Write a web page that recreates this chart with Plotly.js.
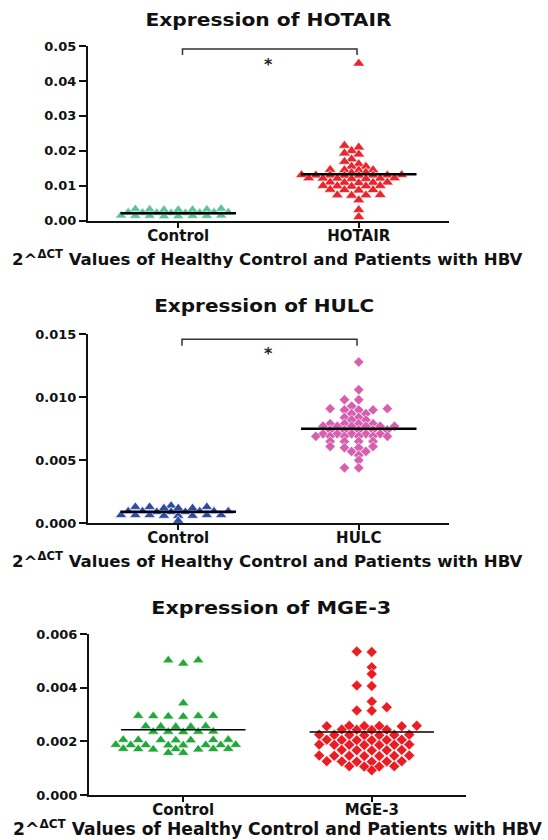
<!DOCTYPE html>
<html><head><meta charset="utf-8">
<script src="https://cdn.plot.ly/plotly-3.0.1.min.js"></script>
<style>html,body{margin:0;padding:0;background:#fff}#chart{width:548px;height:840px}</style>
</head><body><div id="chart"></div>
<script>
// ---------------- DATA ----------------
const hotairTitle = "Expression of HOTAIR";
const hotairCategories = ["Control", "HOTAIR"];
const hotairControl = [0.0031,0.0032,0.0031,0.0034,0.0032,0.0031,0.0033,
  0.0023,0.0024,0.0022,0.0023,0.0024,0.0022,0.0023,0.0024,
  0.0014,0.0015,0.0013,0.0014,0.0015,0.0014,0.0013,0.0014];
const hotairPatients = [0.0450,
  0.0215,0.0210,
  0.0200,0.0193,0.0190,
  0.0176,0.0169,0.0162,
  0.0155,0.0155,
  0.0146,0.0145,0.0145,0.0144,
  0.0138,0.0137,
  0.0131,0.0130,0.0130,0.0129,0.0130,0.0131,0.0129,0.0130,
  0.0122,0.0121,0.0120,0.0121,0.0122,0.0120,0.0121,
  0.0110,0.0109,0.0108,0.0109,0.0110,
  0.0100,0.0099,0.0098,0.0099,0.0100,
  0.0089,0.0088,0.0087,0.0088,
  0.0074,0.0073,0.0072,0.0073,
  0.0059,0.0031,0.0011];
const hotairMeans = [0.0021, 0.0133];
const hotairYTicks = [0, 0.01, 0.02, 0.03, 0.04, 0.05];
const hotairYTickText = ["0.00", "0.01", "0.02", "0.03", "0.04", "0.05"];

const hulcTitle = "Expression of HULC";
const hulcCategories = ["Control", "HULC"];
const hulcControl = [0.0013,0.0014,0.0012,0.0013,0.0012,0.0013,0.0012,
  0.00095,0.0009,0.00095,0.00095,0.0009,0.00095,0.0009,0.00095,
  0.00065,0.0006,0.00065,0.00065,0.0006,0.00065,0.00065,0.0006,
  0.0002];
const hulcPatients = [0.0128,
  0.0106,
  0.0098,0.0098,
  0.0093,
  0.0091,0.0090,0.0091,0.0090,0.0090,
  0.0087,0.0087,
  0.0084,0.0084,
  0.0082,0.0082,
  0.0079,0.0079,0.0079,0.0079,
  0.0077,0.0077,0.0077,0.0077,0.0077,0.0077,
  0.0074,0.0074,0.0074,0.0074,0.0074,
  0.0071,0.0071,0.0071,0.0071,0.0071,
  0.0069,0.0069,0.0069,0.0069,0.0069,0.0069,
  0.0065,0.0065,0.0065,0.0065,
  0.0061,0.0061,0.0060,0.0060,
  0.0057,0.0057,
  0.0054,0.0050,0.0044,0.0044];
const hulcMeans = [0.00092, 0.0075];
const hulcYTicks = [0, 0.005, 0.010, 0.015];
const hulcYTickText = ["0.000", "0.005", "0.010", "0.015"];

const mgeTitle = "Expression of MGE-3";
const mgeCategories = ["Control", "MGE-3"];
const mgeControl = [0.00502,0.00490,0.00502,
  0.00342,
  0.00295,0.00293,0.00294,0.00292,0.00294,0.00295,
  0.00256,0.00254,0.00255,0.00256,0.00254,
  0.00236,0.00237,0.00235,0.00236,0.00236,
  0.00205,0.00206,0.00204,0.00205,0.00206,0.00204,0.00205,
  0.00186,0.00187,0.00185,0.00186,0.00187,0.00185,0.00186,0.00186,
  0.00171,0.00170,0.00172,0.00171,0.00170,0.00172,0.00171,
  0.00157,0.00157];
const mgePatients = [0.00535,0.00533,
  0.00476,
  0.00451,
  0.00408,0.00406,
  0.00348,
  0.00327,
  0.00315,0.00314,
  0.00258,0.00257,0.00256,0.00257,0.00258,0.00256,
  0.00243,0.00242,0.00244,0.00243,
  0.00225,0.00223,0.00224,0.00224,0.00225,0.00223,0.00224,
  0.00205,0.00206,0.00204,0.00205,0.00206,0.00204,
  0.00187,0.00188,0.00186,0.00187,0.00188,0.00186,0.00187,
  0.00167,0.00168,0.00166,0.00167,0.00168,
  0.00146,0.00147,0.00145,0.00146,0.00147,0.00145,0.00146,
  0.00125,0.00126,0.00124,0.00125,0.00126,0.00124,
  0.00107,0.00106,0.00107,0.00106,
  0.00092];
const mgeMeans = [0.00243, 0.00235];
const mgeYTicks = [0, 0.002, 0.004, 0.006];
const mgeYTickText = ["0.000", "0.002", "0.004", "0.006"];

const xLabelText = "2^<sup>ΔCT</sup> Values of Healthy Control and Patients with HBV";

// ---------------- LAYOUT / STYLE ----------------
const W = 548, H = 840;
const FONT = "DejaVu Sans, Liberation Sans, Arial, sans-serif";
const px2x = p => p / W;
const px2y = p => 1 - p / H;

const panels = [
  { title: hotairTitle, cats: hotairCategories, groups: [hotairControl, hotairPatients], means: hotairMeans,
    yTicks: hotairYTicks, yTickText: hotairYTickText, yRange: [0, 0.05],
    xPx: [88, 449], yPx: [46, 220.7], h: 7.15, D0: 5, D1: 2,
    colors: ['#5cc49b', '#e8262d'], symbols: ['triangle-up', 'triangle-up'], sizes: [10, 10.5],
    meanW: 2.5, meanHalf: 0.32, titlePos: [269, 20], titleLen: 246, xlabPos: [267, 257.5],
    bracket: { x0: 182.5, x1: 357, yTop: 49, yEnd: 55 }, star: [268, 65], labSize: 16.6, tickLabSize: 15 },
  { title: hulcTitle, cats: hulcCategories, groups: [hulcControl, hulcPatients], means: hulcMeans,
    yTicks: hulcYTicks, yTickText: hulcYTickText, yRange: [0, 0.015],
    xPx: [88, 449], yPx: [334.3, 523.3], h: 7.15, D0: 5, D1: 2,
    colors: ['#2e4ba6', '#d65fb0'], symbols: ['triangle-up', 'diamond'], sizes: [10, 8],
    meanW: 2.5, meanHalf: 0.32, titlePos: [263.5, 305.7], titleLen: 220, xlabPos: [267, 560],
    bracket: { x0: 182, x1: 357, yTop: 339.3, yEnd: 345.7 }, star: [268, 353], labSize: 16.6, tickLabSize: 15 },
  { title: mgeTitle, cats: mgeCategories, groups: [mgeControl, mgePatients], means: mgeMeans,
    yTicks: mgeYTicks, yTickText: mgeYTickText, yRange: [0, 0.006],
    xPx: [89, 466], yPx: [634, 795], h: 7.5, D0: 6, D1: 3.5,
    colors: ['#22a83a', '#ec1c24'], symbols: ['triangle-up', 'diamond'], sizes: [10, 8.5],
    meanW: 1.6, meanHalf: 0.33, titlePos: [271, 608], titleLen: 240, xlabPos: [277, 828],
    bracket: null, star: null, labSize: 17.2, tickLabSize: 15 }
];

// Prism-like column scatter: greedy placement on a half-step lattice
function swarm(vals, pxPerY, h, D0, D1) {
  const idx = vals.map((v, i) => i).sort((a, b) => vals[a] - vals[b] || a - b);
  const placed = [];
  const k = new Array(vals.length).fill(0);
  for (const i of idx) {
    const y = vals[i] * pxPerY;
    for (let s = 0; s < 400; s++) {
      const cand = s === 0 ? 0 : (s % 2 === 1 ? -Math.ceil(s / 2) : Math.ceil(s / 2));
      let ok = true;
      for (const p of placed) {
        const dy = Math.abs(p.y - y), dk = Math.abs(p.k - cand);
        if ((dk === 0 && dy < D0) || (dk === 1 && dy < D1)) { ok = false; break; }
      }
      if (ok) { k[i] = cand; placed.push({ y: y, k: cand }); break; }
    }
  }
  return k.map(v => v * h);
}

const traces = [];
const shapes = [];
const annotations = [];
const layout = {
  width: W, height: H, margin: { l: 0, r: 0, t: 0, b: 0 },
  paper_bgcolor: '#fff', plot_bgcolor: '#fff', showlegend: false,
  font: { family: FONT, color: '#000' }
};

panels.forEach((P, pi) => {
  const n = pi + 1;
  const xa = 'xaxis' + (n === 1 ? '' : n), ya = 'yaxis' + (n === 1 ? '' : n);
  const xr = 'x' + (n === 1 ? '' : n), yr = 'y' + (n === 1 ? '' : n);
  const xRange = [-0.5, 1.5];
  layout[xa] = {
    domain: [px2x(P.xPx[0]), px2x(P.xPx[1])], range: xRange, anchor: yr,
    showgrid: false, zeroline: false, showline: true, linecolor: '#111', linewidth: 2,
    ticks: 'outside', ticklen: 5, tickwidth: 2, tickcolor: '#111', ticklabelstandoff: -5,
    tickmode: 'array', tickvals: [0, 1], ticktext: P.cats,
    tickfont: { family: FONT, size: P.tickLabSize, color: '#111', weight: 'bold' }, fixedrange: true
  };
  layout[ya] = {
    domain: [px2y(P.yPx[1]), px2y(P.yPx[0])], range: P.yRange, anchor: xr,
    showgrid: false, zeroline: false, showline: true, linecolor: '#111', linewidth: 2,
    ticks: 'outside', ticklen: 7, tickwidth: 2, tickcolor: '#111',
    tickmode: 'array', tickvals: P.yTicks, ticktext: P.yTickText,
    tickfont: { family: FONT, size: 13, color: '#111', weight: 'bold' }, fixedrange: true
  };
  const pxPerX = (P.xPx[1] - P.xPx[0]) / (xRange[1] - xRange[0]);
  const pxPerY = (P.yPx[1] - P.yPx[0]) / (P.yRange[1] - P.yRange[0]);
  P.groups.forEach((vals, gi) => {
    const off = swarm(vals, pxPerY, P.h, P.D0, P.D1);
    traces.push({
      type: 'scatter', mode: 'markers', xaxis: xr, yaxis: yr, cliponaxis: false,
      x: vals.map((v, i) => gi + off[i] / pxPerX), y: vals,
      marker: { symbol: P.symbols[gi], size: P.sizes[gi], color: P.colors[gi], line: { color: '#ffffff', width: 0.6 } },
      hoverinfo: 'y'
    });
    shapes.push({ type: 'line', xref: xr, yref: yr, x0: gi - P.meanHalf, x1: gi + P.meanHalf,
      y0: P.means[gi], y1: P.means[gi], line: { color: '#000', width: P.meanW }, layer: 'above' });
  });
  annotations.push({ xref: 'paper', yref: 'paper', x: px2x(P.titlePos[0]), y: px2y(P.titlePos[1]),
    xanchor: 'center', yanchor: 'middle', showarrow: false, text: P.title, name: 'title' + n,
    font: { family: FONT, size: 17.5, color: '#111', weight: 'bold' } });
  annotations.push({ xref: 'paper', yref: 'paper', x: px2x(P.xlabPos[0]), y: px2y(P.xlabPos[1]),
    xanchor: 'center', yanchor: 'middle', showarrow: false, text: xLabelText,
    font: { family: FONT, size: P.labSize, color: '#111', weight: 'bold' } });
  if (P.bracket) {
    const b = P.bracket;
    shapes.push({ type: 'path', xref: 'paper', yref: 'paper', layer: 'above',
      path: `M ${px2x(b.x0)},${px2y(b.yEnd)} L ${px2x(b.x0)},${px2y(b.yTop)} L ${px2x(b.x1)},${px2y(b.yTop)} L ${px2x(b.x1)},${px2y(b.yEnd)}`,
      line: { color: '#333', width: 1.5 } });
    annotations.push({ xref: 'paper', yref: 'paper', x: px2x(P.star[0]), y: px2y(P.star[1]),
      xanchor: 'center', yanchor: 'middle', showarrow: false, text: '*',
      font: { family: FONT, size: 16, color: '#222', weight: 'bold' } });
  }
});

layout.shapes = shapes;
layout.annotations = annotations;
Plotly.newPlot('chart', traces, layout, { staticPlot: true, displayModeBar: false }).then(() => {
  // the reference titles are set in a horizontally stretched face: widen the real text glyphs
  const titleLens = {};
  panels.forEach(P => { titleLens[P.title] = P.titleLen; });
  document.querySelectorAll('#chart text.annotation-text').forEach(t => {
    const L = titleLens[t.textContent];
    if (L) {
      t.setAttribute('textLength', L);
      t.setAttribute('lengthAdjust', 'spacingAndGlyphs');
    }
  });
});
</script>
</body></html>
